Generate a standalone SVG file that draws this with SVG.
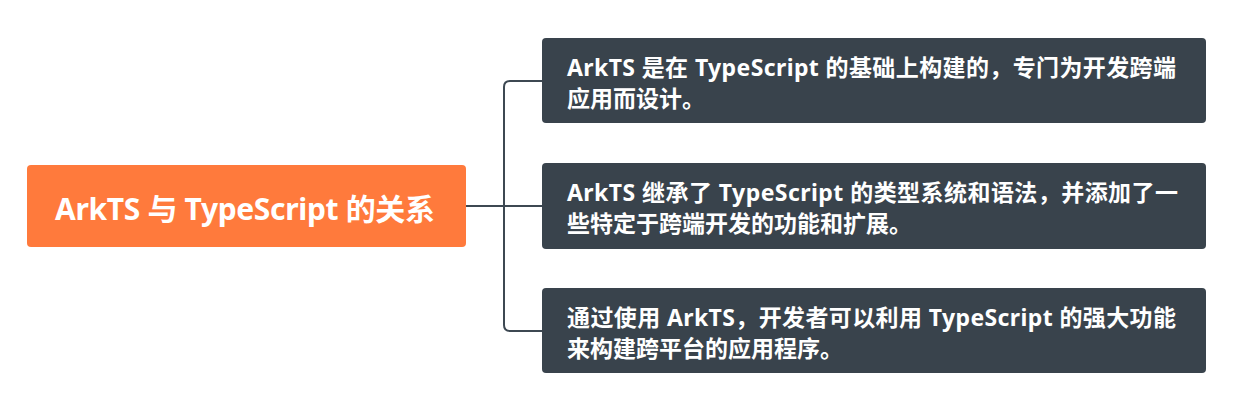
<svg xmlns="http://www.w3.org/2000/svg" width="1244" height="416" viewBox="0 0 1244 416">
<style>
.bg{fill:#ffffff}
.root{fill:#ff7a3c}
.child{fill:#39434c}
.t{font-family:"Noto Sans","Noto Sans CJK SC",sans-serif;font-weight:bold;fill:#ffffff}
.rt{font-size:30px}
.ct{font-size:23px}
.conn{fill:none;stroke:#3d4852;stroke-width:2}
</style>
<rect class="bg" x="0" y="0" width="1244" height="416"/>
<g id="connectors">
<path class="conn" d="M466,206 H504"/>
<path class="conn" d="M542,81 H510 Q504,81 504,87 V325 Q504,331 510,331 H542"/>
<path class="conn" d="M504,206 H542"/>
</g>
<g id="root">
<rect class="root" x="27" y="165" width="439" height="82" rx="4"/>
<text class="t rt" x="245" y="220" text-anchor="middle" textLength="380" lengthAdjust="spacing">ArkTS 与 TypeScript 的关系</text>
</g>
<g id="child1">
<rect class="child" x="542" y="38" width="664" height="85" rx="4"/>
<text class="t ct" x="567" y="76" textLength="609" lengthAdjust="spacing">ArkTS 是在 TypeScript 的基础上构建的，专门为开发跨端</text>
<text class="t ct" x="567" y="107">应用而设计。</text>
</g>
<g id="child2">
<rect class="child" x="542" y="163" width="664" height="86" rx="4"/>
<text class="t ct" x="567" y="201" textLength="611" lengthAdjust="spacing">ArkTS 继承了 TypeScript 的类型系统和语法，并添加了一</text>
<text class="t ct" x="567" y="232">些特定于跨端开发的功能和扩展。</text>
</g>
<g id="child3">
<rect class="child" x="542" y="288" width="664" height="85" rx="4"/>
<text class="t ct" x="567" y="326" textLength="609" lengthAdjust="spacing">通过使用 ArkTS，开发者可以利用 TypeScript 的强大功能</text>
<text class="t ct" x="567" y="357">来构建跨平台的应用程序。</text>
</g>
</svg>
